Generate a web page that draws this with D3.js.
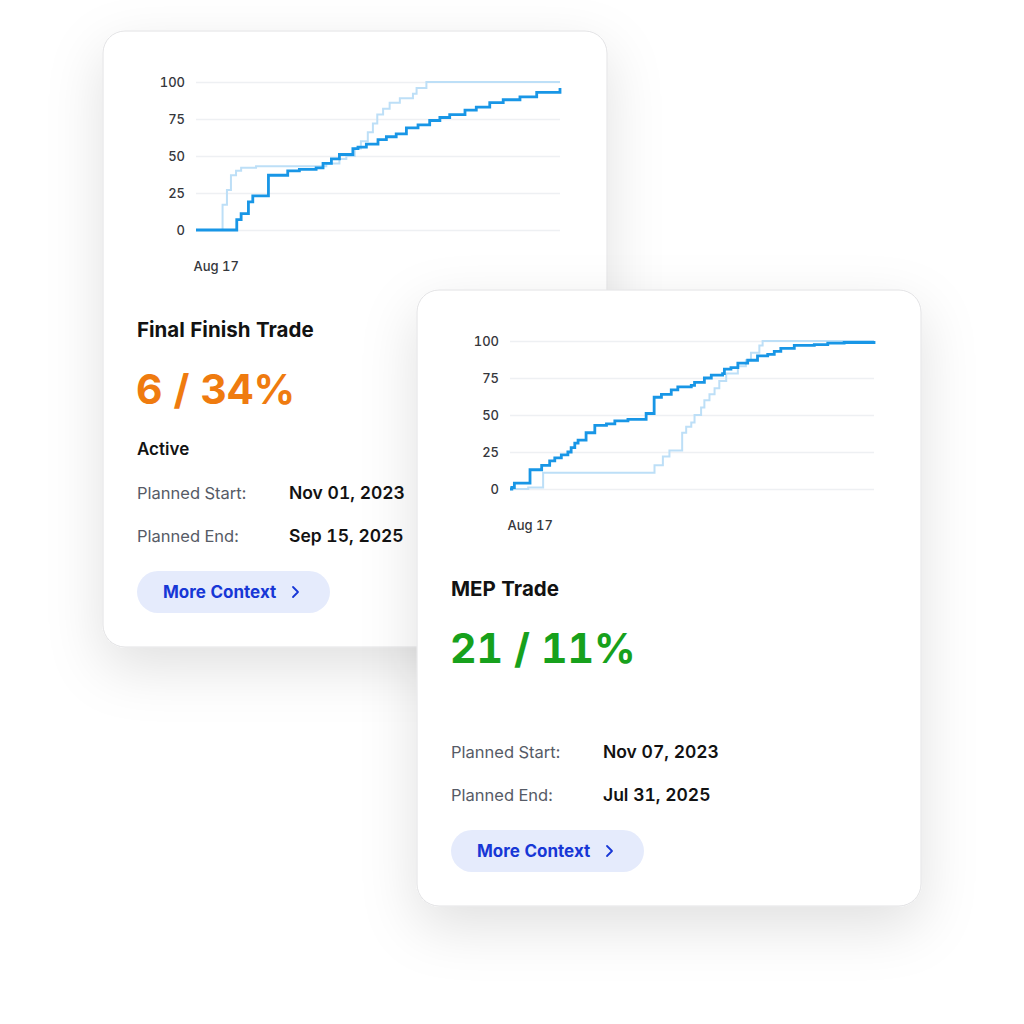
<!DOCTYPE html>
<html>
<head>
<meta charset="utf-8">
<script src="https://cdn.jsdelivr.net/npm/d3@7"></script>
<style>
  body { margin: 0; background: #fff; }
  text { font-family: Inter, "Noto Sans", sans-serif; font-variant-numeric: tabular-nums; }
</style>
</head>
<body>
<div id="chart"></div>
<script>
// y ticks shared by both charts
var yTicks = [0, 25, 50, 75, 100];
var xTickLabel = "Aug 17";

// Final Finish Trade: actual (dark) and plan (light), x is 0..100 along the time span
var finishActualX = [0, 11.2, 12.4, 14.4, 15.6, 19.9, 25.2, 28.4, 33, 34.9, 37.2, 39.4, 43.1, 44.5, 46.8, 50, 52.3, 55, 57.8, 61, 64.2, 67, 69.7, 73.9, 77, 80.7, 84.4, 89, 93.6, 100];
var finishActualY = [0, 7, 11, 19, 23, 37, 40, 41, 42, 45, 48, 51, 55, 56, 58, 61, 63, 65, 69, 71, 74, 76, 78, 81, 83, 86, 88, 90, 93, 96];
var finishPlanX = [0, 7.3, 8.5, 9.6, 11, 12.4, 16.5, 33.5, 35.8, 39.4, 41.3, 43.6, 45.3, 47.2, 48.6, 49.8, 51.4, 53.2, 56, 59.6, 60.6, 63.3, 100];
var finishPlanY = [0, 17, 27, 37, 40, 42, 43, 43, 45, 48, 50, 55, 60, 66, 72, 78, 82, 86, 89, 92, 96, 100, 100];

// MEP Trade
var mepActualX = [0, 0.5, 1.2, 5.5, 8.7, 10.9, 12.3, 14.1, 15.9, 16.8, 17.8, 18.7, 20.9, 23.3, 26.5, 28.8, 32.4, 37.4, 39.6, 41.6, 44.3, 46.1, 49.8, 50.7, 53.4, 55.3, 58.4, 58.9, 60.7, 62.6, 65.3, 68, 70.8, 72.6, 74.4, 78.1, 83.6, 87.3, 91.8, 100];
var mepActualY = [0, 1, 4, 13, 16, 19, 21, 23, 25, 28, 31, 33, 38, 43, 44, 46, 47, 51, 62, 64, 67, 69, 70, 72, 75, 77, 78, 81, 82, 85, 87, 90, 91, 93, 95, 97, 97.5, 98.5, 99, 100];
var mepPlanX = [0, 5, 9.1, 37.4, 39.7, 42, 43.8, 47.3, 48.4, 49.8, 50.7, 52.5, 53.4, 54.8, 56.2, 57.5, 59.4, 62.6, 64.8, 66.2, 68.5, 69.4, 100];
var mepPlanY = [0, 1, 11, 11, 16, 22, 26, 38, 42, 45, 50, 55, 60, 64, 68, 73, 78, 83, 87, 92, 97, 100, 100];

var cards = [
  {x: 103, y: 31, title: "Final Finish Trade", score: "6 / 34%", scoreColor: "#ef7b0f",
   status: "Active", start: "Nov 01, 2023", end: "Sep 15, 2025",
   actualX: finishActualX, actualY: finishActualY, planX: finishPlanX, planY: finishPlanY},
  {x: 417, y: 290, title: "MEP Trade", score: "21 / 11%", scoreColor: "#17a11c",
   status: null, start: "Nov 07, 2023", end: "Jul 31, 2025",
   actualX: mepActualX, actualY: mepActualY, planX: mepPlanX, planY: mepPlanY}
];

var W = 1024, H = 1024;
var cardW = 504, cardH = 616;
var plot = {left: 93, right: 457, top: 51, bottom: 199};

var svg = d3.select("#chart").append("svg")
    .attr("width", W)
    .attr("height", H);

var defs = svg.append("defs");
defs.append("filter")
    .attr("id", "shadow")
    .attr("x", "-30%").attr("y", "-30%")
    .attr("width", "160%").attr("height", "160%")
  .append("feDropShadow")
    .attr("dx", 0).attr("dy", 20)
    .attr("stdDeviation", 28)
    .attr("flood-color", "#000")
    .attr("flood-opacity", 0.12);

var x = d3.scaleLinear().domain([0, 100]).range([plot.left, plot.right]);
var y = d3.scaleLinear().domain([0, 100]).range([plot.bottom, plot.top]);

function zip(xs, ys) {
    return xs.map(function (v, i) { return [v, ys[i]]; });
}

var line = d3.line()
    .x(function (d) { return x(d[0]); })
    .y(function (d) { return y(d[1]); })
    .curve(d3.curveStepAfter);

function drawCard(c) {
    var g = svg.append("g")
        .attr("transform", "translate(" + c.x + "," + c.y + ")");

    g.append("rect")
        .attr("width", cardW)
        .attr("height", cardH)
        .attr("rx", 22)
        .attr("fill", "#fff")
        .attr("stroke", "#e2e2e4")
        .attr("stroke-width", 1)
        .attr("filter", "url(#shadow)");

    // y axis with gridlines
    var yAxis = g.append("g")
        .attr("transform", "translate(" + plot.left + ",0)")
        .call(d3.axisLeft(y)
            .tickValues(yTicks)
            .tickSize(-(plot.right - plot.left))
            .tickPadding(11));
    yAxis.select(".domain").remove();
    yAxis.selectAll("line")
        .attr("stroke", "#eef0f3")
        .attr("stroke-width", 1.5);
    yAxis.selectAll("text")
        .attr("fill", "#35373c")
        .style("font-size", "13px")
        .style("font-weight", 500);

    // x axis, single label
    var xAxis = g.append("g")
        .attr("transform", "translate(0," + (plot.bottom + 29) + ")")
        .call(d3.axisBottom(x)
            .tickValues([0])
            .tickSize(0)
            .tickFormat(function () { return xTickLabel; }));
    xAxis.select(".domain").remove();
    xAxis.selectAll("text")
        .attr("text-anchor", "start")
        .attr("dx", -3)
        .attr("fill", "#35373c")
        .style("font-size", "13px")
        .style("font-weight", 500);

    g.append("path")
        .datum(zip(c.planX, c.planY))
        .attr("d", line)
        .attr("fill", "none")
        .attr("stroke", "#bddff7")
        .attr("stroke-width", 2);

    g.append("path")
        .datum(zip(c.actualX, c.actualY))
        .attr("d", line)
        .attr("fill", "none")
        .attr("stroke", "#1896e6")
        .attr("stroke-width", 2.8);

    // text block
    g.append("text")
        .attr("x", 34).attr("y", 306)
        .attr("fill", "#121212")
        .style("font-size", "20.5px")
        .style("font-weight", 650)
        .text(c.title);

    g.append("text")
        .attr("x", 33).attr("y", 373)
        .attr("fill", c.scoreColor)
        .style("font-size", "41px")
        .style("font-weight", 700)
        .text(c.score);

    if (c.status) {
        g.append("text")
            .attr("x", 34).attr("y", 424)
            .attr("fill", "#121212")
            .style("font-size", "17px")
            .style("font-weight", 600)
            .text(c.status);
    }

    var rows = [["Planned Start:", c.start, 468], ["Planned End:", c.end, 511]];
    rows.forEach(function (r) {
        g.append("text")
            .attr("x", 34).attr("y", r[2])
            .attr("fill", "#565b66")
            .style("font-size", "16.5px")
            .text(r[0]);
        g.append("text")
            .attr("x", 186).attr("y", r[2])
            .attr("fill", "#121212")
            .style("font-size", "17.5px")
            .style("font-weight", 600)
            .text(r[1]);
    });

    // button
    g.append("rect")
        .attr("x", 34).attr("y", 540)
        .attr("width", 193).attr("height", 42)
        .attr("rx", 21)
        .attr("fill", "#e5ebfc");
    g.append("text")
        .attr("x", 60).attr("y", 567)
        .attr("fill", "#1737d6")
        .style("font-size", "17px")
        .style("font-weight", 700)
        .text("More Context");
    g.append("path")
        .attr("d", "M190,556 L195,561 L190,566")
        .attr("fill", "none")
        .attr("stroke", "#1737d6")
        .attr("stroke-width", 1.8)
        .attr("stroke-linecap", "round")
        .attr("stroke-linejoin", "round");
}

cards.forEach(drawCard);
</script>
</body>
</html>
